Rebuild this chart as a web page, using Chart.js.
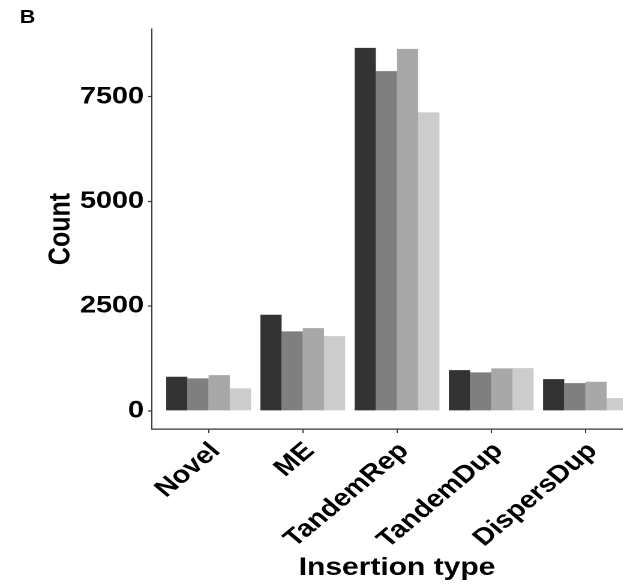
<!DOCTYPE html>
<html>
<head>
<meta charset="utf-8">
<script src="https://cdn.jsdelivr.net/npm/chart.js@4/dist/chart.umd.min.js"></script>
<style>
  html, body { margin: 0; padding: 0; background: #fff; overflow: hidden; }
  /* the source figure is stretched horizontally, so the whole drawing is too */
  #wrap { position: relative; width: 535px; height: 586px; transform: scaleX(1.2); transform-origin: 0 0; }
  #panel { position: absolute; left: 16.5px; top: 6.5px; font: bold 18px "Liberation Sans", Arial, sans-serif; color: #000; }
</style>
</head>
<body>
<div id="wrap">
  <canvas id="chart"></canvas>
  <div id="panel">B</div>
</div>
<script>
// insertion types on the x axis
const categories = ['Novel', 'ME', 'TandemRep', 'TandemDup', 'DispersDup'];

// counts per group (four grey shades, no legend in the figure)
const group1 = [812, 2293, 8665, 972, 757];
const group2 = [774, 1896, 8109, 917, 662];
const group3 = [853, 1975, 8641, 1013, 693];
const group4 = [535, 1784, 7124, 1020, 303];

const yTicks = [0, 2500, 5000, 7500];

const groups = [group1, group2, group3, group4];
const fills = ['#333333', '#7f7f7f', '#a8a8a8', '#cccccc'];
const font = 'Liberation Sans, Arial, sans-serif';

const ctx = document.getElementById('chart').getContext('2d');

new Chart(ctx, {
  type: 'bar',
  data: {
    datasets: groups.map((values, g) => ({
      label: 'Group ' + (g + 1),
      data: values.map((v, i) => ({ x: i, y: v })),
      backgroundColor: fills[g],
      borderWidth: 0,
      categoryPercentage: 0.9,
      barPercentage: 1.0
    }))
  },
  options: {
    animation: false,
    responsive: true,
    maintainAspectRatio: false,
    devicePixelRatio: 2,
    layout: { padding: { top: 29, left: 0, right: 0, bottom: 0 } },
    plugins: {
      legend: { display: false },
      tooltip: { enabled: false }
    },
    scales: {
      x: {
        type: 'linear',
        offset: false,
        min: -0.6,
        max: categories.length - 0.4,
        afterFit: (scale) => { scale.height = 157; },
        afterBuildTicks: (scale) => {
          scale.ticks = categories.map((c, i) => ({ value: i }));
        },
        border: { display: true, color: '#333333', width: 1.2 },
        grid: { offset: false, drawOnChartArea: false, color: '#333333', tickLength: 4, tickWidth: 1 },
        ticks: {
          autoSkip: false,
          minRotation: 45,
          maxRotation: 45,
          padding: 4,
          labelOffset: 6,
          color: '#000',
          font: { family: font, size: 24, weight: 'bold' },
          callback: (v) => categories[v]
        },
        title: {
          display: true,
          text: 'Insertion type',
          color: '#000',
          padding: { top: 0, bottom: 3 },
          font: { family: font, size: 25, weight: 'bold' }
        }
      },
      y: {
        min: -434,
        max: 9115,
        afterFit: (scale) => { scale.width = 126.7; },
        afterBuildTicks: (scale) => {
          scale.ticks = yTicks.map((v) => ({ value: v }));
        },
        border: { display: true, color: '#333333', width: 1 },
        grid: { drawOnChartArea: false, color: '#333333', tickLength: 3.3, tickWidth: 1.2 },
        ticks: {
          padding: 3.4,
          color: '#000',
          font: { family: font, size: 24, weight: 'bold' },
          callback: (v) => String(v)
        },
        title: {
          display: true,
          text: 'Count',
          color: '#000',
          padding: { top: 36, bottom: 0 },
          font: { family: font, size: 25, weight: 'bold' }
        }
      }
    }
  }
});
</script>
</body>
</html>
